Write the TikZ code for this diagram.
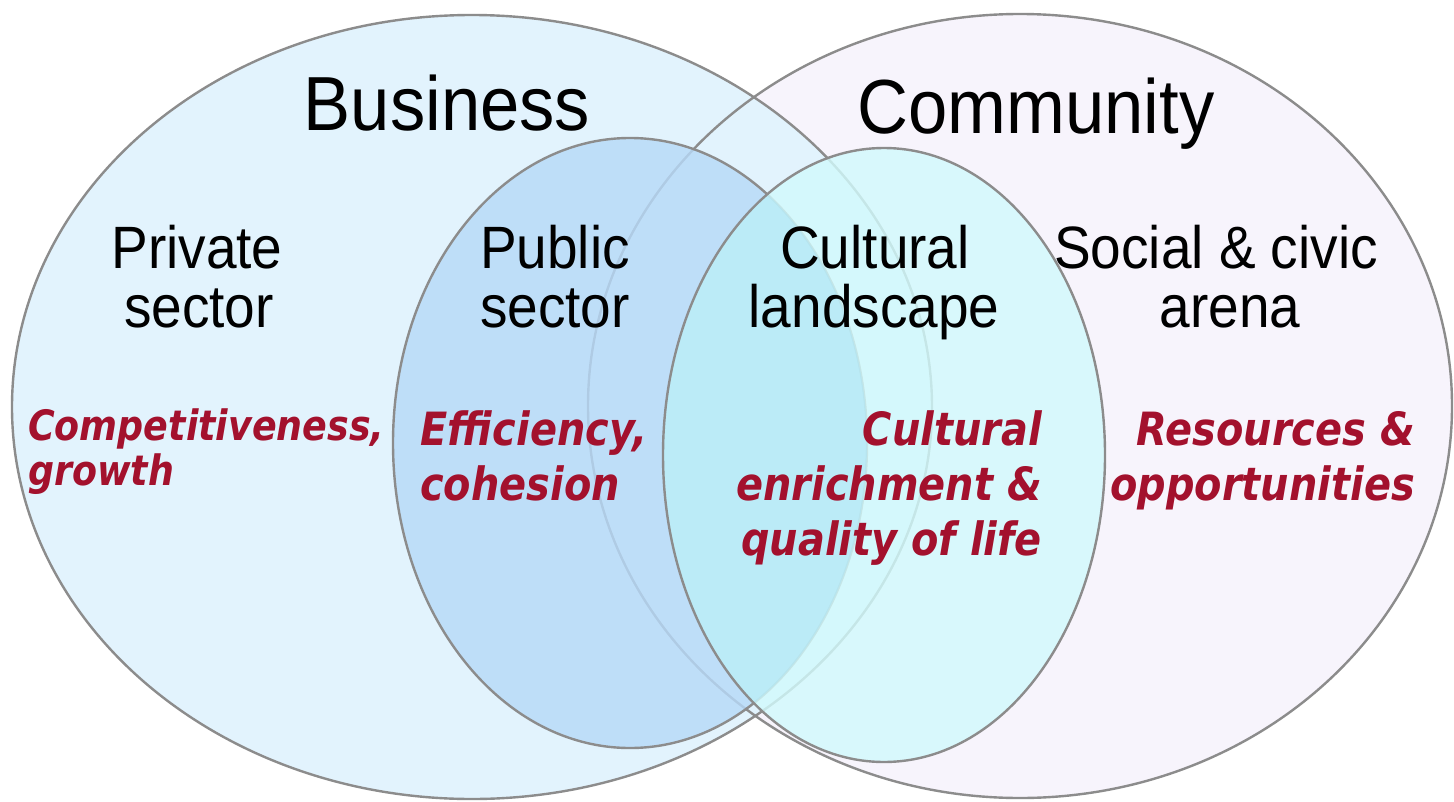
\documentclass[tikz,border=0pt]{standalone}
\usepackage{fontspec}
\newfontfamily\hdrfont{Liberation Sans}[FakeStretch=0.92]
\newfontfamily\notefont{DejaVu Sans}[FakeStretch=0.87]
\definecolor{bizfill}{RGB}{226,243,253}
\definecolor{comfill}{RGB}{247,244,252}
\definecolor{pubfill}{RGB}{183,218,248}
\definecolor{culfill}{RGB}{210,250,252}
\definecolor{mixfill}{RGB}{170,228,245}
\definecolor{rimgray}{RGB}{140,140,140}
\definecolor{notered}{RGB}{163,17,45}
\begin{document}
\begin{tikzpicture}[x=1bp,y=-1bp,
  rim/.style={draw=rimgray, line width=2.4bp},
  bigtitle/.style={font=\hdrfont\fontsize{77}{80}\selectfont, anchor=base, inner sep=0pt},
  sectlabel/.style={font=\hdrfont\fontsize{60}{60}\selectfont, anchor=base, inner sep=0pt},
  notetext/.style={font=\notefont\bfseries\itshape\fontsize{46}{50}\selectfont, text=notered, inner sep=0pt},
  smallnote/.style={notetext, font=\notefont\bfseries\itshape\fontsize{42}{46}\selectfont}]
\useasboundingbox[fill=white] (0,0) rectangle (1454,801);
% outer sets
\fill[comfill] (1020,406) ellipse [x radius=432bp, y radius=392bp];
\fill[bizfill] (472,407) ellipse [x radius=460bp, y radius=392bp];
\draw[rim] (1020,406) ellipse [x radius=432bp, y radius=392bp];
\draw[rim] (472,407) ellipse [x radius=460bp, y radius=392bp];
% public sector
\fill[pubfill, fill opacity=0.82] (630,443) ellipse [x radius=237bp, y radius=305bp];
\draw[rim] (630,443) ellipse [x radius=237bp, y radius=305bp];
% cultural landscape
\fill[culfill, fill opacity=0.82] (884,455) ellipse [x radius=221bp, y radius=307bp];
\begin{scope}
  \clip (630,443) ellipse [x radius=237bp, y radius=305bp];
  \fill[mixfill, fill opacity=0.5] (884,455) ellipse [x radius=221bp, y radius=307bp];
\end{scope}
\draw[rim] (884,455) ellipse [x radius=221bp, y radius=307bp];
% titles
\node[bigtitle] (business) at (447,130) {Business};
\node[bigtitle] (community) at (1036,133) {Community};
% sector labels
\node[sectlabel] (priv1) at (197,268) {Private};
\node[sectlabel] (priv2) at (199,327) {sector};
\node[sectlabel] (pub1) at (555,268) {Public};
\node[sectlabel] (pub2) at (555,327) {sector};
\node[sectlabel] (cul1) at (875,268) {Cultural};
\node[sectlabel] (cul2) at (874,327) {landscape};
\node[sectlabel] (soc1) at (1216,268) {Social \& civic};
\node[sectlabel] (soc2) at (1230,327) {arena};
% red notes
\node[smallnote, anchor=base west] (comp1) at (28,440) {Competitiveness,};
\node[smallnote, anchor=base west] (comp2) at (28,485) {growth};
\node[notetext, anchor=base west] (eff1) at (420,445) {Efficiency,};
\node[notetext, anchor=base west] (eff2) at (420,500) {cohesion};
\node[notetext, anchor=base east] (enr1) at (1042,445) {Cultural};
\node[notetext, anchor=base east] (enr2) at (1042,500) {enrichment \&};
\node[notetext, anchor=base east] (enr3) at (1042,555) {quality of life};
\node[notetext, anchor=base east] (res1) at (1415,445) {Resources \&};
\node[notetext, anchor=base east] (res2) at (1415,500) {opportunities};
\end{tikzpicture}
\end{document}
